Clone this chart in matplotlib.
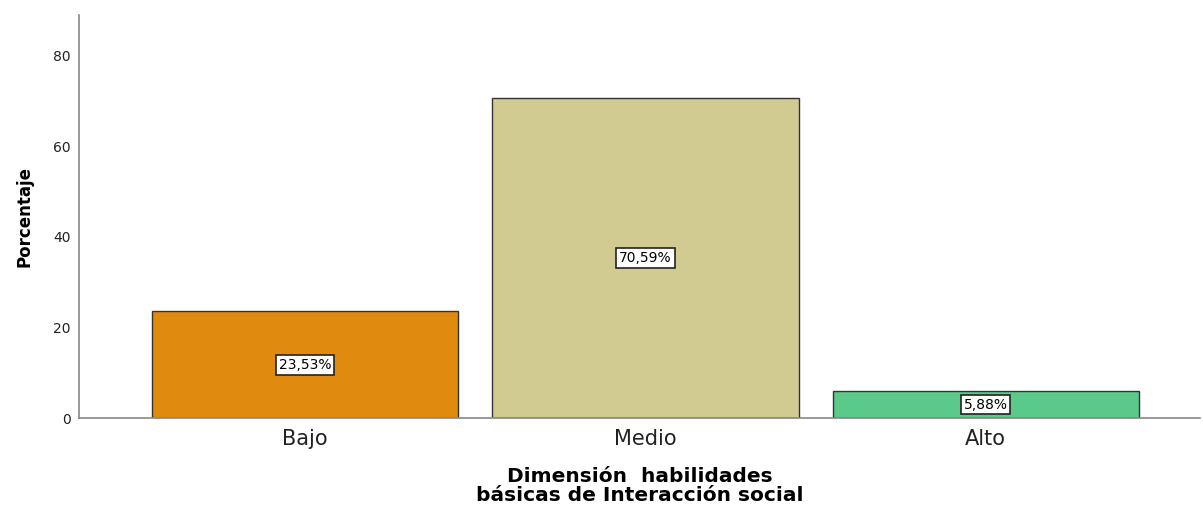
import matplotlib
matplotlib.use("Agg")
import matplotlib.pyplot as plt

categories = ["Bajo", "Medio", "Alto"]
values = [23.53, 70.59, 5.88]
labels = ["23,53%", "70,59%", "5,88%"]
colors = ["#E08A10", "#D1CB91", "#5BC98A"]
yticks = [0, 20, 40, 60, 80]

plt.rcParams['font.family'] = ['DejaVu Sans']
fig = plt.figure(figsize=(12.03, 5.07), dpi=100)
ax = fig.add_axes([79/1203, 1-418/507, (1200-79)/1203, (418-15)/507])

x = list(range(len(categories)))
bars = ax.bar(x, values, width=0.9, color=colors, edgecolor="#333333", linewidth=1.0)
for xi, v, lab in zip(x, values, labels):
    ax.text(xi, v/2, lab, ha="center", va="center", fontsize=10,
            bbox=dict(boxstyle="square,pad=0.2", facecolor="white", edgecolor="#222222", linewidth=1.2))

ax.set_xlim(-0.665, 2.63)
ax.set_ylim(0, 89)
ax.set_yticks(yticks)
ax.set_xticks(x)
ax.set_xticklabels(categories, fontsize=15, color="#222222")
ax.tick_params(axis="y", length=0, labelsize=10, pad=6, colors="#222222")
ax.tick_params(axis="x", length=0, pad=8)
for s in ["top", "right"]:
    ax.spines[s].set_visible(False)
for s in ["left", "bottom"]:
    ax.spines[s].set_color("#888888")
    ax.spines[s].set_linewidth(1.2)
ax.set_ylabel("Porcentaje", fontsize=12, fontweight="bold", labelpad=14)
ax.set_xlabel("Dimensión  habilidades\nbásicas de Interacción social", fontsize=14.5,
              fontweight="bold", labelpad=13, linespacing=1.0)

fig.savefig("out.png", dpi=100)
